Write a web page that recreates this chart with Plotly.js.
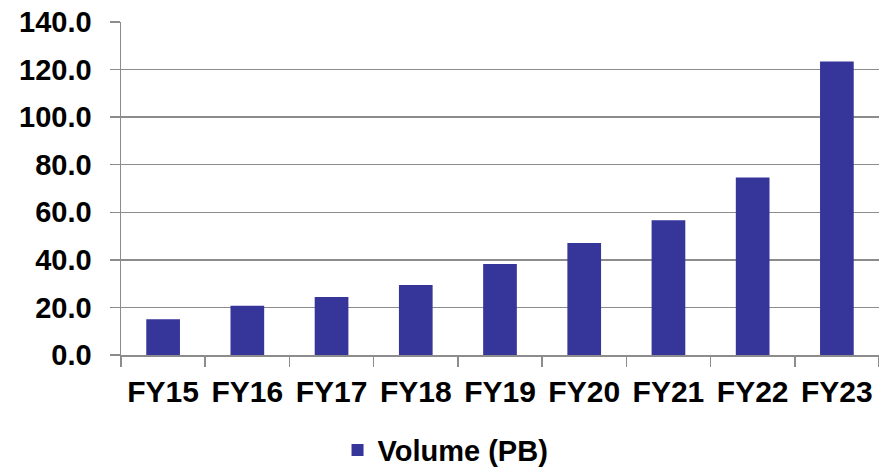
<!DOCTYPE html>
<html>
<head>
<meta charset="utf-8">
<script src="https://cdn.plot.ly/plotly-3.0.1.min.js"></script>
<style>html,body{margin:0;padding:0;background:#fff;}#chart{width:879px;height:469px;}</style>
</head>
<body>
<div id="chart"></div>
<script>
const categories = ["FY15", "FY16", "FY17", "FY18", "FY19", "FY20", "FY21", "FY22", "FY23"];
const volumePB = [15.0, 20.7, 24.4, 29.4, 38.3, 47.1, 56.6, 74.6, 123.4];
const seriesName = "Volume (PB)";
const yTickVals = [0, 20, 40, 60, 80, 100, 120, 140];
const yTickText = ["0.0", "20.0", "40.0", "60.0", "80.0", "100.0", "120.0", "140.0"];

const FONT = "Arial, 'Liberation Sans', sans-serif";
const GRID = "#8c8c8c";

const trace = {
  type: "bar",
  x: categories,
  y: volumePB,
  name: seriesName,
  marker: {color: "#35359a", line: {width: 0}},
  width: 0.4,
  showlegend: true,
  hoverinfo: "x+y"
};

const layout = {
  width: 879,
  height: 469,
  margin: {l: 121, r: 0, t: 22, b: 114, autoexpand: false},
  paper_bgcolor: "#ffffff",
  plot_bgcolor: "#ffffff",
  font: {family: FONT, color: "#000000"},
  showlegend: true,
  legend: {
    orientation: "h",
    xref: "container",
    yref: "container",
    x: 0.384, xanchor: "left",
    y: 0.04, yanchor: "middle",
    font: {family: FONT, size: 29, weight: "bold", color: "#000000"},
    itemwidth: 30,
    bgcolor: "rgba(0,0,0,0)"
  },
  xaxis: {
    type: "category",
    tickson: "boundaries",
    ticks: "outside",
    ticklen: 10,
    tickwidth: 1.5,
    tickcolor: GRID,
    showline: true,
    linecolor: GRID,
    linewidth: 1.5,
    showgrid: false,
    automargin: false,
    tickfont: {family: FONT, size: 30, weight: "bold", color: "#000000"},
    ticklabelstandoff: 9
  },
  yaxis: {
    range: [0, 140],
    tickvals: yTickVals,
    ticktext: yTickText,
    ticks: "outside",
    ticklen: 10,
    tickwidth: 1.5,
    tickcolor: GRID,
    showline: true,
    linecolor: GRID,
    linewidth: 1.5,
    showgrid: true,
    gridcolor: GRID,
    gridwidth: 1.5,
    zeroline: false,
    automargin: false,
    tickfont: {family: FONT, size: 29, weight: "bold", color: "#000000"},
    ticklabelstandoff: 12
  }
};

Plotly.newPlot("chart", [trace], layout, {displayModeBar: false, staticPlot: true});
</script>
</body>
</html>
